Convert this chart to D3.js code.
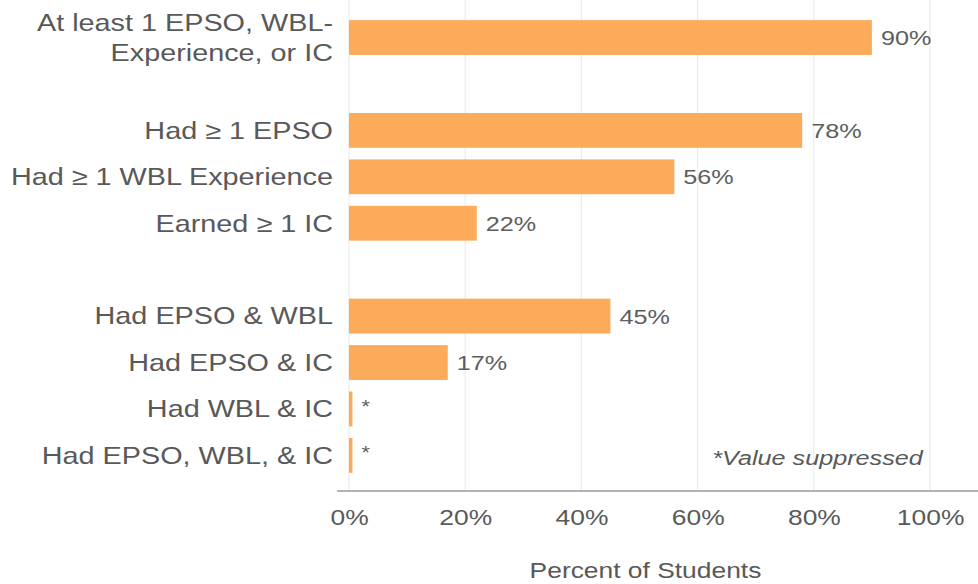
<!DOCTYPE html>
<html>
<head>
<meta charset="utf-8">
<script src="https://cdn.jsdelivr.net/npm/d3@7"></script>
<style>
  html, body { margin: 0; padding: 0; background: #ffffff; }
  svg { display: block; font-family: "Liberation Sans", Arial, sans-serif; }
</style>
</head>
<body>
<script>
// Share of students with early postsecondary opportunities (EPSO),
// work-based learning (WBL) and industry credentials (IC).
const categories = [
  "At least 1 EPSO, WBL-\nExperience, or IC",
  "Had ≥ 1 EPSO",
  "Had ≥ 1 WBL Experience",
  "Earned ≥ 1 IC",
  "Had EPSO & WBL",
  "Had EPSO & IC",
  "Had WBL & IC",
  "Had EPSO, WBL, & IC"
];
// Group each category belongs to; a blank row separates the groups.
const groups = [0, 1, 1, 1, 2, 2, 2, 2];
// Percent of students; suppressed values get a hairline placeholder.
const values = [90, 78, 56, 22, 45, 17, 0.6, 0.6];
const valueLabels = ["90%", "78%", "56%", "22%", "45%", "17%", "*", "*"];
const xTicks = [0, 20, 40, 60, 80, 100];
const axisTitle = "Percent of Students";
const footnote = "*Value suppressed";

// Row slots, with an empty slot between groups.
const slots = [];
categories.forEach((c, i) => {
  if (i > 0 && groups[i] !== groups[i - 1]) slots.push("gap" + i);
  slots.push("cat" + i);
});

const W = 815, H = 584;  // drawing units; the svg is stretched to 978 wide
const svg = d3.select("body").append("svg")
  .attr("width", 978).attr("height", 584)
  .attr("viewBox", `0 0 ${W} ${H}`)
  .attr("preserveAspectRatio", "none");

const x = d3.scaleLinear().domain([0, 100]).range([290.8, 775]);
const y = d3.scaleBand().domain(slots).range([14.3, 478.6])
  .paddingInner(0.25).paddingOuter(0.125);
const baseY = 491;

// Vertical gridlines
svg.append("g").selectAll("line").data(xTicks).join("line")
  .attr("x1", d => x(d)).attr("x2", d => x(d))
  .attr("y1", 0).attr("y2", baseY)
  .attr("stroke", "#ececec").attr("stroke-width", 1);

// Bars
svg.append("g").selectAll("rect").data(values).join("rect")
  .attr("x", x(0))
  .attr("y", (d, i) => y("cat" + i))
  .attr("width", d => x(d) - x(0))
  .attr("height", y.bandwidth())
  .attr("fill", "#fcab5a");

// Value labels
svg.append("g").selectAll("text").data(values).join("text")
  .attr("x", d => x(d) + 7.5)
  .attr("y", (d, i) => y("cat" + i) + y.bandwidth() / 2)
  .attr("dy", (d, i) => valueLabels[i] === "*" ? "0.2em" : "0.36em")
  .attr("font-size", (d, i) => valueLabels[i] === "*" ? 18 : 21)
  .attr("fill", "#5e5e5e")
  .text((d, i) => valueLabels[i]);

// Category labels (right aligned, may wrap onto two lines)
const catG = svg.append("g");
categories.forEach((c, i) => {
  const lines = c.split("\n");
  const cy = y("cat" + i) + y.bandwidth() / 2;
  const lh = 30;
  const t = catG.append("text")
    .attr("text-anchor", "end")
    .attr("font-size", 24)
    .attr("fill", "#595959");
  lines.forEach((ln, k) => {
    t.append("tspan")
      .attr("x", 277.5)
      .attr("y", cy + (k - (lines.length - 1) / 2) * lh)
      .attr("dy", "0.35em")
      .text(ln);
  });
});

// Baseline
svg.append("line")
  .attr("x1", 281).attr("x2", W)
  .attr("y1", baseY).attr("y2", baseY)
  .attr("stroke", "#9a9a9a").attr("stroke-width", 1.6);

// Axis tick labels
const axis = d3.axisBottom(x).tickValues(xTicks)
  .tickFormat(d => d + "%").tickSize(0).tickPadding(0);
const axG = svg.append("g").attr("transform", `translate(0,${baseY})`).call(axis);
axG.select(".domain").remove();
axG.selectAll("text")
  .attr("y", 34).attr("dy", 0)
  .attr("font-size", 22)
  .attr("font-family", "Liberation Sans, Arial, sans-serif")
  .attr("fill", "#595959");

// Axis title
svg.append("text")
  .attr("x", (x(0) + x(100)) / 2 + 5).attr("y", 578)
  .attr("text-anchor", "middle")
  .attr("font-size", 22)
  .attr("fill", "#595959")
  .text(axisTitle);

// Footnote
svg.append("text")
  .attr("x", 769).attr("y", 465)
  .attr("text-anchor", "end")
  .attr("font-size", 21)
  .attr("font-style", "italic")
  .attr("fill", "#595959")
  .text(footnote);
</script>
</body>
</html>
